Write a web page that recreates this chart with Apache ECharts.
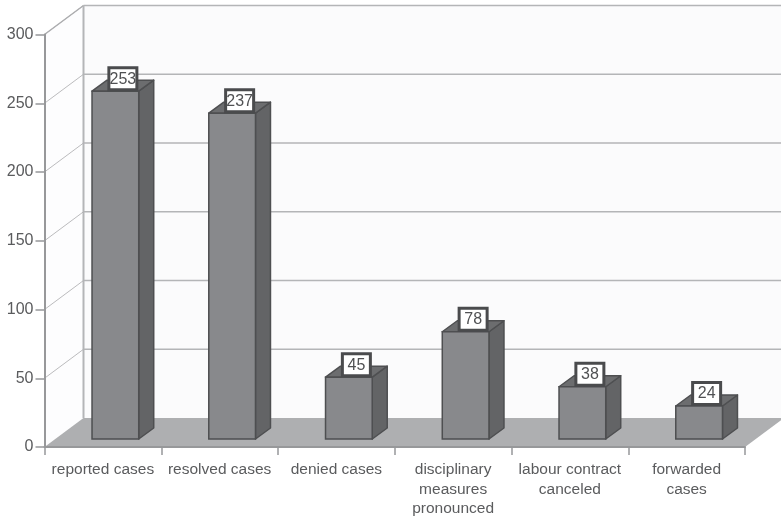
<!DOCTYPE html>
<html><head><meta charset="utf-8">
<style>html,body{margin:0;padding:0;background:#fff}#c{width:781px;height:519px}</style>
<script src="https://cdn.jsdelivr.net/npm/echarts@6/dist/echarts.min.js"></script>
</head><body><div id="c"></div>
<script>
var categories = ['reported cases','resolved cases','denied cases','disciplinary\nmeasures\npronounced','labour contract\ncanceled','forwarded\ncases'];
var values = [253,237,45,78,38,24];
var yTicks = [0,50,100,150,200,250,300];

var DX = 39, DY = -29;          // wall depth
var BX = 12.5, BY = -8;         // bar front-face shift from the axis plane
var TX = 15, TY = -11;          // bar depth
var FONT = '"Liberation Sans", Arial, sans-serif';
var TEXT = '#5a5b5d';

function poly(pts, fill, stroke, lw){
  return {type:'polygon', shape:{points:pts}, style:{fill:fill, stroke:stroke||null, lineWidth:lw||0, lineJoin:'round'}};
}
function line(a,b,color,lw){
  return {type:'line', shape:{x1:a[0],y1:a[1],x2:b[0],y2:b[1]}, style:{stroke:color, lineWidth:lw}};
}
function renderWalls(params, api){
  var g = params.coordSys, l=g.x, r=g.x+g.width, t=g.y, b=g.y+g.height;
  return {type:'group', children:[
    poly([[l,t],[l+DX,t+DY],[l+DX,b+DY],[l,b]], '#fdfdfe'),
    poly([[l+DX,t+DY],[r+DX,t+DY],[r+DX,b+DY],[l+DX,b+DY]], '#fbfbfc'),
    line([l+DX,t+DY],[l+DX,b+DY],'#b4b5b7',2),
    line([l,t],[l+DX,t+DY],'#b4b5b7',1.5),
    poly([[l,b],[r,b],[r+DX,b+DY],[l+DX,b+DY]], '#aeafb1')
  ]};
}
function renderGrid(params, api){
  var g = params.coordSys, r=g.x+g.width;
  var y = api.coord([0, api.value(1)])[1];
  var els = [];
  if(api.value(1) > 0){
    els.push(line([g.x,y],[g.x+DX,y+DY],'#a9aaac',0.8));
    els.push(line([g.x+DX,y+DY],[r+DX,y+DY],'#b4b5b7',1.5));
  }
  return {type:'group', children:els};
}
function renderBar(params, api){
  var i = api.value(0), v = api.value(1);
  var top = api.coord([i,v]), base = api.coord([i,0]);
  var w = api.size([1,0])[0]*0.4;
  var x0 = top[0]+BX-w/2, x1 = x0+w, y0 = top[1]+BY, y1 = base[1]+BY;
  var edge = '#4e4f51';
  var lx = x0+w/2+TX/2, ly = y0+TY/2-7, bw=28, bh=22;
  return {type:'group', children:[
    poly([[x1,y0],[x1+TX,y0+TY],[x1+TX,y1+TY],[x1,y1]],'#636466',edge,1.5),
    poly([[x0,y0],[x0+TX,y0+TY],[x1+TX,y0+TY],[x1,y0]],'#6c6d6f',edge,1.5),
    {type:'rect', shape:{x:x0,y:y0,width:w,height:y1-y0}, style:{fill:'#88898c',stroke:edge,lineWidth:1.5}},
    {type:'rect', shape:{x:lx-bw/2,y:ly-bh/2,width:bw,height:bh}, style:{fill:'#fff',stroke:'#4a4b4d',lineWidth:3}},
    {type:'text', x:lx, y:ly+0.5, style:{text:String(v),fill:'#505153',font:'16px '+FONT,align:'center',verticalAlign:'middle'}}
  ]};
}
var chart = echarts.init(document.getElementById('c'),null,{renderer:'canvas'});
chart.setOption({
  animation:false,
  backgroundColor:'#fff',
  grid:{left:44.5,right:36,top:34.5,bottom:72,containLabel:false},
  xAxis:{type:'category',data:categories,z:5,
    axisLine:{show:true,lineStyle:{color:'#97989a',width:2}},
    axisTick:{show:true,alignWithLabel:false,length:8,lineStyle:{color:'#97989a',width:1.5}},
    axisLabel:{interval:0,color:TEXT,fontFamily:FONT,fontSize:15.5,lineHeight:19.5,margin:13}
  },
  yAxis:{type:'value',min:0,max:300,interval:50,z:5,
    axisLine:{show:true,lineStyle:{color:'#97989a',width:2}},
    axisTick:{show:true,length:9,lineStyle:{color:'#97989a',width:1.5}},
    axisLabel:{formatter:function(v){return yTicks.indexOf(v)>=0?String(v):''},color:TEXT,fontFamily:FONT,fontSize:16,margin:11},
    splitLine:{show:false}
  },
  series:[
    {type:'custom',z:1,silent:true,renderItem:renderWalls,data:[[0,0]],encode:{x:0,y:1}},
    {type:'custom',z:1.5,silent:true,renderItem:renderGrid,data:yTicks.map(function(t){return [0,t]}),encode:{x:0,y:1}},
    {type:'custom',z:2,silent:true,renderItem:renderBar,data:values.map(function(v,i){return [i,v]}),encode:{x:0,y:1}}
  ]
});
</script></body></html>
